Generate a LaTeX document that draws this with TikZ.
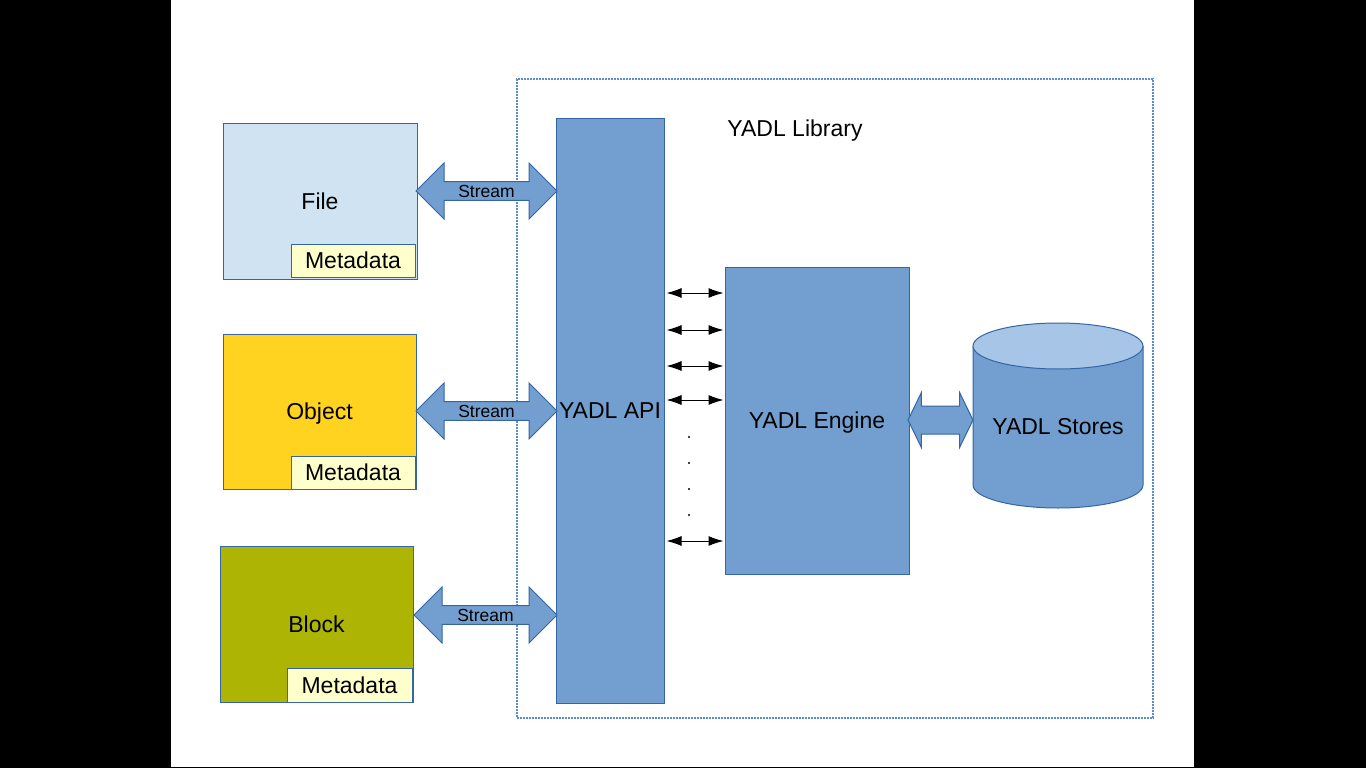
\documentclass[tikz,border=0pt]{standalone}
\usepackage{fontspec}
\setmainfont{Liberation Sans}
\usetikzlibrary{arrows.meta,shapes.arrows}
\definecolor{bfill}{HTML}{729FCF}
\definecolor{bline}{HTML}{3465A4}
\definecolor{filefill}{HTML}{CFE3F3}
\definecolor{objfill}{HTML}{FFD320}
\definecolor{blkfill}{HTML}{AEB404}
\definecolor{metafill}{HTML}{FFFFCC}
\definecolor{topfill}{HTML}{A7C5E6}
\definecolor{framecol}{HTML}{5B8BC8}
\tikzset{
  box/.style={draw=bline, line width=1pt, inner sep=0pt, font=\fontsize{23}{27}\selectfont, text=black, text depth=0pt},
  meta/.style={box, fill=metafill, minimum width=124pt, minimum height=33pt},
  stream/.style={double arrow, draw=bline, fill=bfill, line width=1pt, inner sep=0pt,
    double arrow head extend=13.5pt, double arrow tip angle=90,
    minimum width=56pt, font=\fontsize{17.5}{20}\selectfont},
  link/.style={{Latex[length=15pt,width=10pt]}-{Latex[length=15pt,width=10pt]}, line width=1pt, black, shorten <=2pt, shorten >=1pt},
  libframe/.style={draw=framecol, line width=1.3pt, dash pattern=on 2pt off 1pt, inner sep=0pt},
  dotmark/.style={circle, fill=black, inner sep=0pt, minimum size=2.2pt},
  label/.style={font=\fontsize{23}{27}\selectfont, inner sep=0pt},
}
\begin{document}
\begin{tikzpicture}[x=1pt,y=-1pt]
\useasboundingbox (0,0) rectangle (1366,768);
\fill[black] (0,0) rectangle (1366,768);
\fill[white] (171,0) rectangle (1194,767);

% library frame
\node[libframe, minimum width=636pt, minimum height=639pt] (frame) at (835,398.5) {};
\node[label, anchor=base] (lib) at (795,136) {YADL Library};

% left boxes
\node[box, fill=filefill, minimum width=194pt, minimum height=156pt] (file) at (320,201) {File};
\node[meta] (fmeta) at (353,260.5) {Metadata};
\node[box, fill=objfill, minimum width=193pt, minimum height=155pt] (obj) at (319.5,411.5) {Object};
\node[meta] (ometa) at (353,472.5) {Metadata};
\node[box, fill=blkfill, minimum width=193pt, minimum height=156pt] (blk) at (316.5,624) {Block};
\node[meta, minimum width=125pt, minimum height=34pt] (bmeta) at (349.5,685) {Metadata};

% API and engine
\node[box, fill=bfill, minimum width=108pt, minimum height=585pt] (api) at (610,410.5) {YADL API};
\node[box, fill=bfill, minimum width=184pt, minimum height=307pt] (engine) at (817,420.5) {YADL Engine};

% streams
\node[stream, minimum height=141pt] (s1) at (486.5,191) {Stream};
\node[stream, minimum height=141pt] (s2) at (486.5,411) {Stream};
\node[stream, minimum height=143pt] (s3) at (485.5,615) {Stream};

% API <-> engine links
\foreach \yy in {293,330,366,400,541}{
  \draw[link] (api.east |- 0,\yy) -- (engine.west |- 0,\yy);
}
\foreach \yy/\nm in {437/d1,463/d2,489/d3,515/d4}{
  \node[dotmark] (\nm) at (689,\yy) {};
}

% cylinder
\fill[bfill] (973,346) -- (973,485) arc[start angle=180, end angle=360, x radius=85pt, y radius=23pt] -- (1143,346) -- cycle;
\draw[bline, line width=1pt] (973,346) -- (973,485) arc[start angle=180, end angle=360, x radius=85pt, y radius=23pt] -- (1143,346);
\draw[bline, line width=1pt, fill=topfill] (1058,346) ellipse[x radius=85pt, y radius=23pt];
\node[label] (stores) at (1058,427) {YADL Stores};

% engine <-> stores
\node[stream, minimum height=65pt, minimum width=54pt, inner ysep=13.5pt, double arrow tip angle=128] (s4) at (940.5,420) {};
\end{tikzpicture}
\end{document}
